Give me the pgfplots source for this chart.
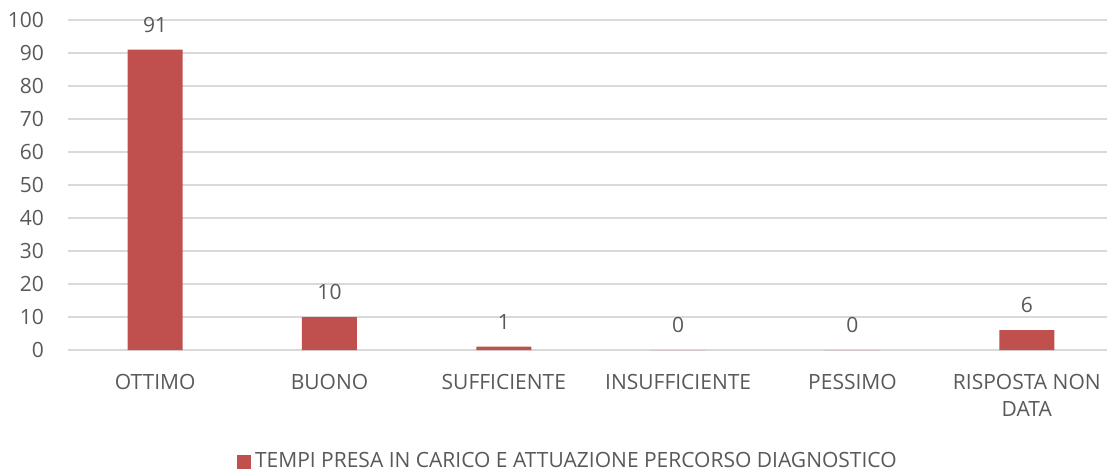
\documentclass[border=0pt]{standalone}
\usepackage{fontspec}
\setmainfont{Open Sans}
\usepackage{pgfplots}
\pgfplotsset{compat=1.18}
\definecolor{barred}{HTML}{C0504D}
\definecolor{txt}{HTML}{595959}
\definecolor{gridc}{HTML}{D9D9D9}
\begin{document}
\begin{tikzpicture}
\path[use as bounding box] (0,0) rectangle (553.5pt,236pt);
\begin{axis}[
  at={(34pt,61pt)}, anchor=south west,
  scale only axis, width=519.5pt, height=165pt,
  ymin=0, ymax=100, ytick={0,10,...,100},
  xmin=-0.5, xmax=5.46,
  xtick={0,1,2,3,4,5},
  xticklabels={OTTIMO,BUONO,SUFFICIENTE,INSUFFICIENTE,PESSIMO,{RISPOSTA NON\\DATA}},
  axis line style={draw=none},
  major tick length=0pt,
  ymajorgrids, grid style={gridc, line width=0.9pt},
  every tick label/.append style={font=\fontsize{10.5pt}{13.5pt}\selectfont, text=txt},
  xticklabel style={align=center, yshift=-8.5pt},
  yticklabel style={xshift=-8.5pt},
  /pgf/number format/assume math mode=true,
  ybar, bar width=27.5pt,
  nodes near coords,
  every node near coord/.append style={font=\fontsize{10.5pt}{12pt}\selectfont, text=txt, yshift=5pt},
  legend style={at={(0.482,-0.338)}, anchor=center, draw=none, font=\fontsize{10.5pt}{12pt}\selectfont, text=txt, inner sep=0pt},
  legend image code/.code={\fill[barred] (1pt,-3.5pt) rectangle (8pt,3.5pt);},
  clip=false,
]
\addplot[fill=barred, draw=none] coordinates {(0,91) (1,10) (2,1) (3,0) (4,0) (5,6)};
\addlegendentry{TEMPI PRESA IN CARICO E ATTUAZIONE PERCORSO DIAGNOSTICO}
\end{axis}
\end{tikzpicture}
\end{document}
